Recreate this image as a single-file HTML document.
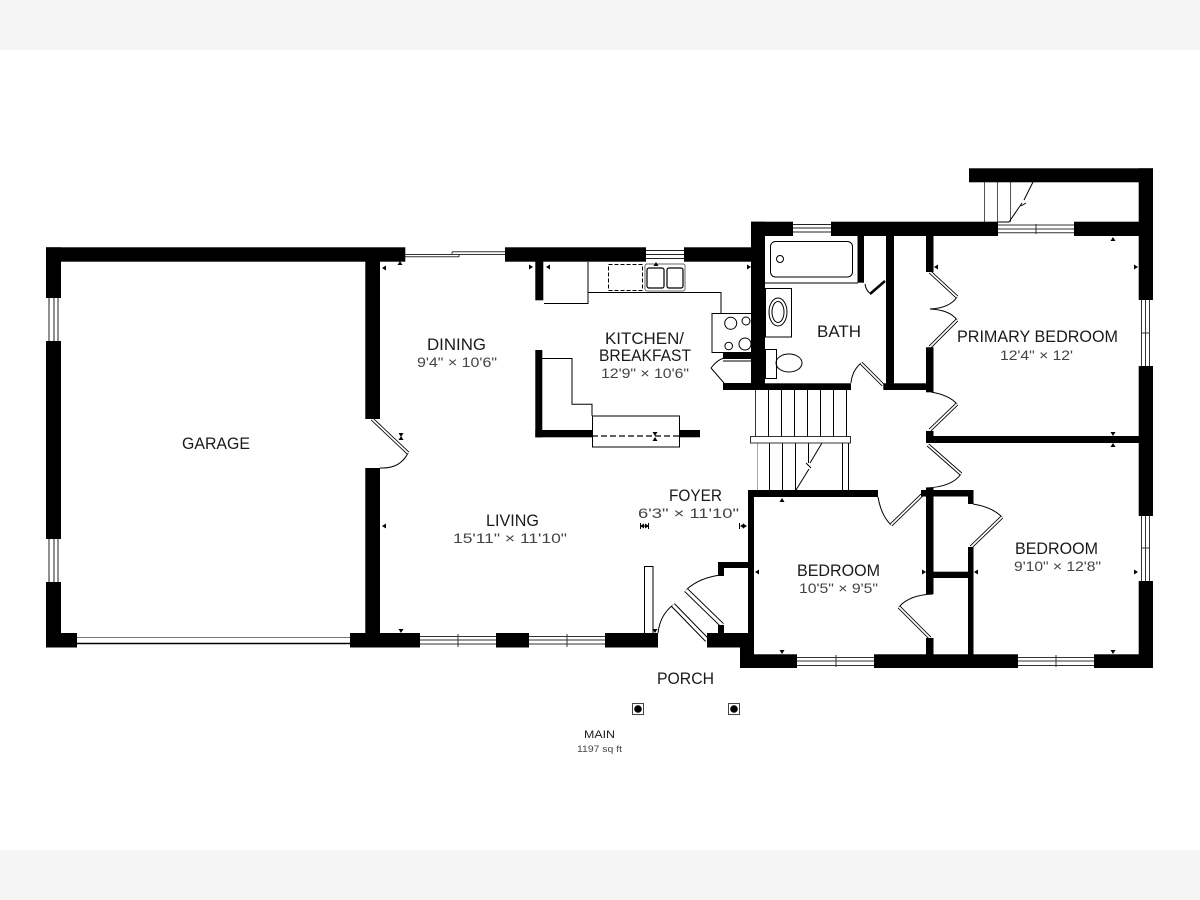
<!DOCTYPE html>
<html><head><meta charset="utf-8"><title>Floor plan</title>
<style>html,body{margin:0;padding:0;background:#fff}svg{display:block}text{font-family:"Liberation Sans",sans-serif;fill:#1a1a1a}.n{font-size:17px}.d{font-size:14px;fill:#444}</style></head>
<body>
<svg width="1200" height="900" viewBox="0 0 1200 900" xmlns="http://www.w3.org/2000/svg">
<defs>
<path id="l" d="M0 0l4-2.500v5z" fill="#000"/>
<path id="r" d="M0 0l-4-2.500v5z" fill="#000"/>
<path id="u" d="M0 0l-2.500 4h5z" fill="#000"/>
<path id="w" d="M0 0l-2.500-4h5z" fill="#000"/>
</defs>
<rect width="1200" height="900" fill="#fff"/>
<rect width="1200" height="50" fill="#f5f5f5"/>
<rect y="850" width="1200" height="50" fill="#f5f5f5"/>

<!-- thin lines: windows, fixtures -->
<g fill="none" stroke="#000" stroke-width="1">
<!-- garage windows -->
<path d="M49 298v43M54 298v43M58 298v43M49 539v43M54 539v43M58 539v43" stroke="#222"/>
<path d="M77 637.500h273" stroke="#777"/><path d="M77 643.500h273" stroke-width="1.500"/>
<!-- slider -->
<path d="M405 254.500h54M405 256.800h54M452 251.800h53M452 254.500h53M452 252v3M459 254v3" stroke="#333"/>
<!-- kitchen window -->
<path d="M646 250.500h38M646 254.500h38M646 258.500h38" stroke="#222"/>
<!-- living windows -->
<path d="M420 636.500h76M420 640h76M420 644h76M458 634v13M529 636.500h76M529 640h76M529 644h76M567 634v13" stroke="#333"/>
<!-- bath window -->
<path d="M793 224.500h38M793 228h38M793 232h38" stroke="#222"/>
<!-- primary top window -->
<path d="M998 225h76M998 229h76M998 232.700h76M1036 224v10" stroke="#333"/>
<!-- right windows -->
<path d="M1141.500 300v66M1149.500 300v66M1145.500 300v66M1142 333h8M1141.500 516v65M1149.500 516v65M1145.500 516v65M1142 548h8" stroke="#333"/>
<!-- bottom windows -->
<path d="M797 657.500h77M797 661h77M797 665.500h77M836 655v12M1018 657.500h76M1018 661h76M1018 665.500h76M1056 655v12" stroke="#333"/>
<!-- upper stair -->
<path d="M984.500 182v40M997.500 182v40" stroke="#555"/>
<path d="M1010.500 182v40" stroke="#555"/>
<path d="M998 222h11l13-19M1024 200l9-18M1021 206l5-3"/>
<!-- cabinets -->
<path d="M544 303.500h44V262M588 292.500h133v21"/>
<rect x="608.500" y="264.500" width="34" height="26" stroke-dasharray="4 2"/>
<rect x="645" y="264" width="40" height="27" rx="2" stroke="#666"/>
<rect x="647" y="268" width="17" height="20" rx="2" stroke-width="1.200"/>
<rect x="667" y="268" width="16" height="20" rx="2" stroke-width="1.200"/>
<rect x="712" y="313.500" width="43.500" height="39"/>
<circle cx="730.700" cy="323.300" r="6"/><circle cx="746" cy="321" r="4"/><circle cx="728.700" cy="346" r="3.800"/><circle cx="745" cy="344" r="6"/>
<!-- island -->
<path d="M542 358.500h30v45.800h20v11.500" />
<rect x="592.500" y="416" width="87" height="31" fill="#fff"/>
<path d="M592 436h87" stroke-dasharray="6 3" stroke-width="1.200"/>
<!-- bath -->
<rect x="770.500" y="241.500" width="82" height="35.500" rx="5"/>
<circle cx="780" cy="259" r="3.500"/>
<path d="M765 283h93" />
<rect x="765.500" y="288.500" width="26" height="48.500"/>
<ellipse cx="778" cy="312" rx="9" ry="14"/><ellipse cx="778" cy="312" rx="6" ry="10.500"/>
<rect x="765.500" y="349.500" width="11" height="29"/>
<ellipse cx="789" cy="363" rx="13" ry="9"/>
<path d="M865 284q1 7 6 10" />
<!-- lower stairs -->
<path d="M755.500 390v46M768.500 390v46M781.500 390v46M794.500 390v46M807.500 390v46M820.500 390v46M833.500 390v46M846.500 390v46"/>
<path d="M757.500 443v47" stroke="#aaa"/>
<path d="M769.500 443v47M782.500 443v47M795.500 443v47M808.500 443v20M842.500 443v47M848.500 443v47"/>
<path d="M796 490l13-21M806 463l5 5M810 463l12-20"/>
<rect x="750.500" y="436.500" width="100" height="6.500" stroke="#333" fill="#fff"/>
<path d="M755.500 383v53" stroke="#333"/>
<!-- thin rect near entry -->
<rect x="644.500" y="566.500" width="8.500" height="67" fill="#fff"/>
<!-- door arcs -->
<path d="M380 468q20 1 28-15M723 361H755M711 368q6-8 13-10M711 368l13 15"/>
<path d="M851 383q1-12 10-20M930 309q20-1 27-12M930 309q20 1 27 11M931 392q18 3 26 12M926 488q26-1 35-14M878 497q3 18 13 28M973 504q19 3 29 13M933 594q-24 1-34 13M658 633q2-18 15-28M686 590q14-13 36-15"/>
</g>
<path d="M870 294l15-13" stroke="#000" stroke-width="2.500" fill="none"/>

<!-- double-line doors -->
<g fill="none" stroke-linecap="butt">
<g stroke="#000" stroke-width="3.500">
<path d="M372 419l36 34M930 272l27 25M957 320l-27 27M883 385l-22-22M957 404l-27 26M928 445l33 29M891 525l34-33M1002 517l-31 30M899 607l31 31"/>
</g>
<g stroke="#000" stroke-width="5">
<path d="M673 605l34 35M686 590l36 35"/>
</g>
<g stroke="#fff" stroke-width="1.800">
<path d="M372 419l36 34M930 272l27 25M957 320l-27 27M883 385l-22-22M957 404l-27 26M928 445l33 29M891 525l34-33M1002 517l-31 30M899 607l31 31"/>
</g>
<g stroke="#fff" stroke-width="3">
<path d="M673 605l34 35M686 590l36 35"/>
</g>
</g>

<!-- walls -->
<g fill="#000">
<!-- garage -->
<rect x="46" y="247.300" width="359.300" height="14.400"/>
<rect x="46" y="247.300" width="15" height="50.700"/>
<rect x="46" y="341" width="15" height="198"/>
<rect x="46" y="582" width="15" height="65.500"/>
<rect x="46" y="633" width="31" height="14.500"/>
<rect x="350" y="633" width="70" height="14.500"/>
<rect x="365.300" y="250" width="14.700" height="169"/>
<rect x="365.300" y="468" width="14.700" height="170"/>
<!-- north wall dining/kitchen -->
<rect x="505" y="247.300" width="141" height="14.400"/>
<rect x="684" y="247.300" width="81" height="14.400"/>
<rect x="535.300" y="255" width="8" height="45.300"/>
<!-- island walls -->
<rect x="535.300" y="350" width="7" height="87.300"/>
<rect x="535.300" y="430" width="57" height="7.300"/>
<rect x="679.500" y="430" width="20.500" height="7.300"/>
<!-- closet near stove -->
<rect x="723" y="353" width="33" height="6"/>
<rect x="723" y="383" width="42" height="7"/>
<!-- bath + north -->
<rect x="751" y="221.700" width="42" height="14.300"/>
<rect x="831" y="221.700" width="167" height="14.300"/>
<rect x="1074" y="221.700" width="79" height="14.300"/>
<rect x="751" y="221.700" width="14" height="168"/>
<rect x="751" y="383.300" width="100" height="6.700"/>
<rect x="857.500" y="236" width="6.500" height="46.700"/>
<rect x="886" y="236" width="8" height="149"/>
<rect x="883.300" y="383.300" width="49.700" height="6.700"/>
<rect x="926" y="236" width="7.500" height="36"/>
<rect x="926" y="347.300" width="7.500" height="45"/>
<!-- stair head upper -->
<rect x="969" y="168.300" width="184" height="14"/>
<rect x="1138.700" y="168.300" width="14.300" height="131.700"/>
<rect x="1138.700" y="366" width="14.300" height="150"/>
<rect x="1138.700" y="581" width="14.300" height="87"/>
<!-- mid wall -->
<rect x="926" y="431" width="7.500" height="12"/>
<rect x="926" y="436" width="213" height="7"/>
<!-- bedrooms -->
<rect x="748" y="490" width="130" height="7"/>
<rect x="748" y="490" width="6" height="178"/>
<rect x="740" y="633" width="14" height="35"/>
<rect x="740" y="654.300" width="57" height="13.700"/>
<rect x="874" y="654.300" width="144" height="13.700"/>
<rect x="1094" y="654.300" width="59" height="13.700"/>
<rect x="921" y="490" width="52" height="6.500"/>
<rect x="926" y="488" width="7.500" height="106"/>
<rect x="968" y="490" width="5.500" height="14"/>
<rect x="968" y="547" width="5.500" height="108"/>
<rect x="933" y="571.700" width="35" height="6.300"/>
<rect x="926" y="638" width="7.500" height="17"/>
<!-- entry -->
<rect x="496" y="633" width="33" height="14.500"/>
<rect x="605" y="633" width="53" height="14.500"/>
<rect x="707" y="633" width="47" height="14.500"/>
<rect x="718" y="562" width="6" height="14"/>
<rect x="718" y="562" width="30" height="6"/>
<rect x="718" y="625" width="6" height="8"/>
</g>

<!-- porch posts -->
<rect x="632.500" y="703.500" width="11" height="11" fill="#fff" stroke="#444"/>
<circle cx="638" cy="709" r="3.800" fill="#000"/>
<rect x="728.500" y="703.500" width="11" height="11" fill="#fff" stroke="#444"/>
<circle cx="734" cy="709" r="3.800" fill="#000"/>

<!-- dimension arrows -->
<g>
<use href="#l" x="382" y="268"/><use href="#u" x="400" y="261"/>
<use href="#l" x="382" y="526"/><use href="#w" x="401" y="633"/>
<use href="#r" x="533" y="267"/><use href="#l" x="546" y="267"/>
<use href="#u" x="656" y="262"/><use href="#r" x="751" y="267"/>
<use href="#l" x="934" y="267"/><use href="#r" x="1138" y="267"/>
<use href="#u" x="1113" y="237"/>
<use href="#r" x="747" y="526"/><use href="#l" x="755" y="572"/>
<use href="#r" x="926" y="572"/><use href="#l" x="974" y="572"/>
<use href="#r" x="1138" y="572"/>
<use href="#w" x="1113" y="436"/><use href="#u" x="1113" y="443"/>
<use href="#u" x="782" y="498"/><use href="#w" x="782" y="654"/>
<use href="#w" x="1113" y="654"/><use href="#w" x="655" y="633"/>
<use href="#w" x="401" y="437"/><use href="#u" x="401" y="436"/>
<use href="#w" x="655" y="436"/><use href="#u" x="655" y="437"/>
<use href="#l" x="640" y="526"/><use href="#r" x="649" y="526"/>
<use href="#l" x="740" y="526"/>
</g>
<path d="M640.500 523v6M648.500 523v6M640 526h8M739.500 523v6" stroke="#000" stroke-width="1"/>

<!-- labels -->
<text class="n" x="427" y="350" textLength="59" lengthAdjust="spacingAndGlyphs">DINING</text>
<text class="d" x="417" y="367" textLength="80" lengthAdjust="spacingAndGlyphs">9'4" × 10'6"</text>
<text class="n" x="605" y="344" textLength="79" lengthAdjust="spacingAndGlyphs">KITCHEN/</text>
<text class="n" x="599" y="361" textLength="92" lengthAdjust="spacingAndGlyphs">BREAKFAST</text>
<text class="d" x="601" y="378" textLength="88" lengthAdjust="spacingAndGlyphs">12'9" × 10'6"</text>
<text class="n" x="817" y="337" textLength="44" lengthAdjust="spacingAndGlyphs">BATH</text>
<text class="n" x="957" y="342" textLength="161" lengthAdjust="spacingAndGlyphs">PRIMARY BEDROOM</text>
<text class="d" x="1000" y="360" textLength="73" lengthAdjust="spacingAndGlyphs">12'4" × 12'</text>
<text class="n" x="797" y="576" textLength="83" lengthAdjust="spacingAndGlyphs">BEDROOM</text>
<text class="d" x="799" y="593" textLength="79" lengthAdjust="spacingAndGlyphs">10'5" × 9'5"</text>
<text class="n" x="1015" y="554" textLength="83" lengthAdjust="spacingAndGlyphs">BEDROOM</text>
<text class="d" x="1014" y="571" textLength="87" lengthAdjust="spacingAndGlyphs">9'10" × 12'8"</text>
<text class="n" x="182" y="449" textLength="68" lengthAdjust="spacingAndGlyphs">GARAGE</text>
<text class="n" x="486" y="526" textLength="53" lengthAdjust="spacingAndGlyphs">LIVING</text>
<text class="d" x="453" y="543" textLength="114" lengthAdjust="spacingAndGlyphs">15'11" × 11'10"</text>
<text class="n" x="669" y="501" textLength="53" lengthAdjust="spacingAndGlyphs">FOYER</text>
<text class="d" x="638" y="518" textLength="101" lengthAdjust="spacingAndGlyphs">6'3" × 11'10"</text>
<text class="n" x="657" y="684" textLength="57" lengthAdjust="spacingAndGlyphs">PORCH</text>
<text x="584" y="738" font-size="11" textLength="31" lengthAdjust="spacingAndGlyphs">MAIN</text>
<text x="577" y="752" font-size="9.500" textLength="45" lengthAdjust="spacingAndGlyphs" style="fill:#444">1197 sq ft</text>
</svg>
</body></html>
